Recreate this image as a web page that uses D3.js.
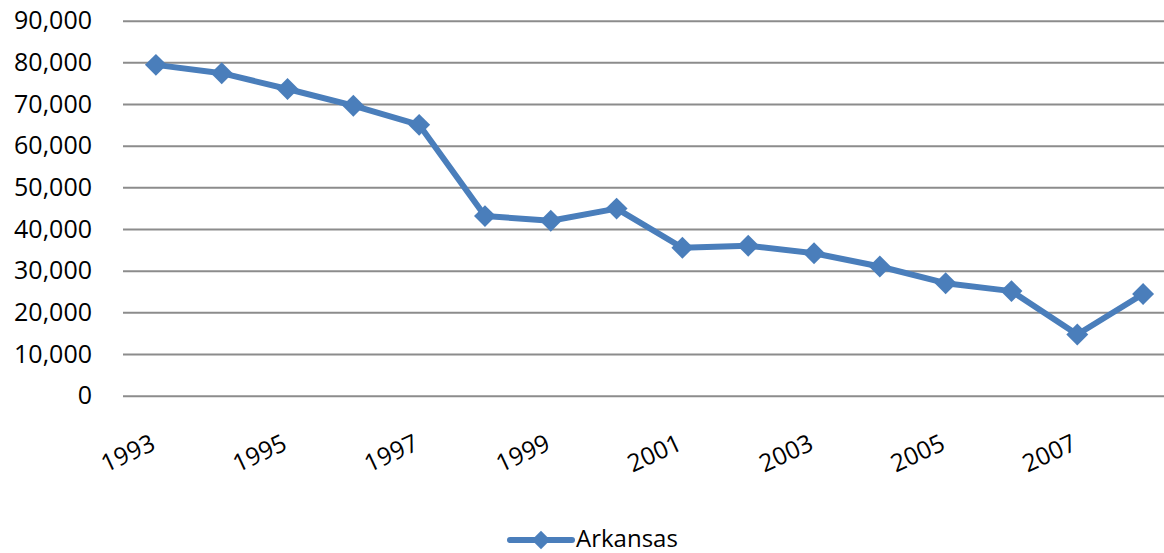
<!DOCTYPE html>
<html>
<head>
<meta charset="utf-8">
<script src="https://cdn.jsdelivr.net/npm/d3@7"></script>
<style>
	body { margin: 0; background: #fff; }
	svg { display: block; }
	text { font-family: "Open Sans", sans-serif; fill: #000; }
</style>
</head>
<body>
<div class="chart"></div>
<script>
var years = [1993, 1994, 1995, 1996, 1997, 1998, 1999, 2000,
	2001, 2002, 2003, 2004, 2005, 2006, 2007, 2008];
var arkansas = [79400, 77400, 73600, 69600, 65000, 43100, 42000, 44900,
	35500, 36000, 34200, 31000, 27000, 25100, 14700, 24400];
var yTicks = [0, 10000, 20000, 30000, 40000, 50000, 60000, 70000, 80000, 90000];
var xLabels = [1993, 1995, 1997, 1999, 2001, 2003, 2005, 2007];
var seriesName = "Arkansas";

var width = 1164, height = 553;
var blue = "#4a7ebb";

var svg = d3.select(".chart").append("svg")
	.attr("width", width)
	.attr("height", height);

// band scale so the last category runs off the right edge like the source
var x = d3.scaleBand()
	.domain(years)
	.range([123, 1176]);

var y = d3.scaleLinear()
	.domain([0, 90000])
	.range([395.7, 20.7]);

function cx(d) { return x(d) + x.bandwidth() / 2; }

// gridlines + y labels
var yAxis = svg.append("g")
	.attr("transform", "translate(123,0)")
	.call(d3.axisLeft(y)
		.tickValues(yTicks)
		.tickFormat(d3.format(","))
		.tickSize(-(1176 - 123))
		.tickPadding(31));
yAxis.select(".domain").remove();
yAxis.selectAll(".tick line")
	.attr("stroke", "#8c8c8c")
	.attr("stroke-width", 2);
yAxis.selectAll(".tick text")
	.style("font-family", "Open Sans")
	.style("font-size", "25px")
	.attr("fill", "#000");

// x labels, rotated
svg.append("g")
	.selectAll("text")
	.data(xLabels)
	.enter().append("text")
	.attr("text-anchor", "end")
	.style("font-size", "24.5px")
	.attr("transform", function(d) {
		return "translate(" + (cx(d) + 1) + ",449)rotate(-25)";
	})
	.text(function(d) { return d; });

// series line
var line = d3.line()
	.x(function(d, i) { return cx(years[i]); })
	.y(function(d) { return y(d); });

svg.append("path")
	.datum(arkansas)
	.attr("fill", "none")
	.attr("stroke", blue)
	.attr("stroke-width", 6)
	.attr("stroke-linejoin", "round")
	.attr("d", line);

var diamond = d3.symbol().type(d3.symbolSquare).size(240);

svg.append("g")
	.selectAll("path")
	.data(arkansas)
	.enter().append("path")
	.attr("d", diamond)
	.attr("fill", blue)
	.attr("transform", function(d, i) {
		return "translate(" + cx(years[i]) + "," + y(d) + ")rotate(45)";
	});

// legend
var legend = svg.append("g").attr("transform", "translate(510,540)");
legend.append("line")
	.attr("x1", 0).attr("x2", 62)
	.attr("stroke", blue)
	.attr("stroke-width", 6)
	.attr("stroke-linecap", "round");
legend.append("path")
	.attr("d", d3.symbol().type(d3.symbolSquare).size(170))
	.attr("fill", blue)
	.attr("transform", "translate(31,0)rotate(45)");
legend.append("text")
	.attr("x", 66)
	.attr("y", 7)
	.style("font-size", "24px")
	.text(seriesName);
</script>
</body>
</html>
